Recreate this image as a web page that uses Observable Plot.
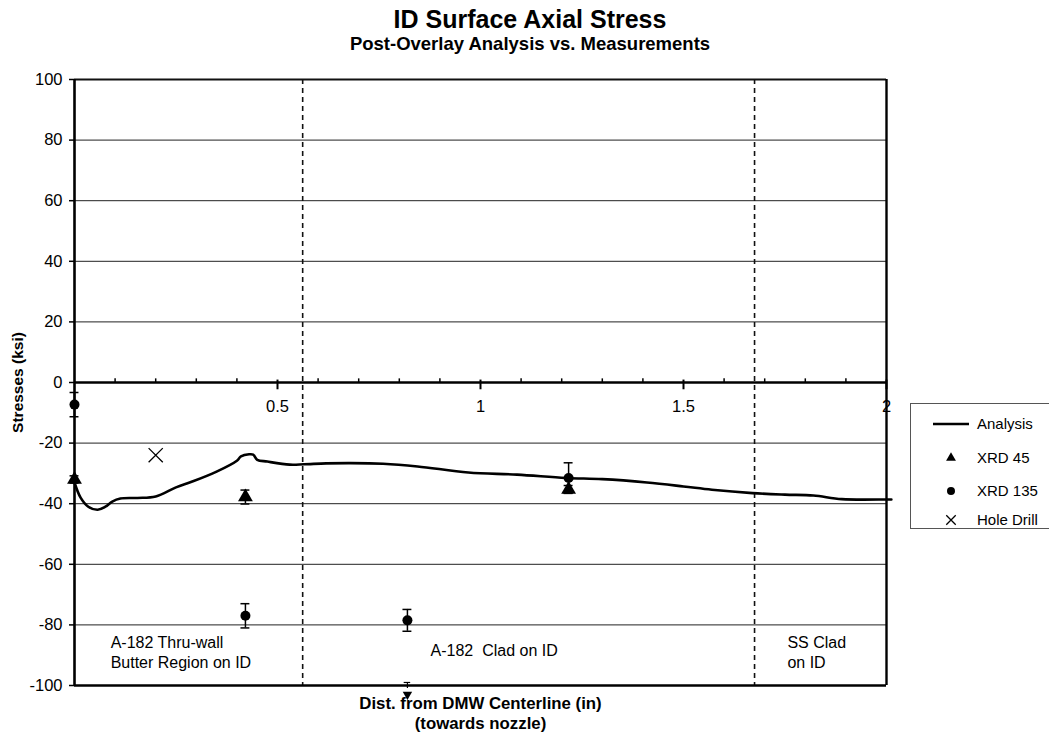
<!DOCTYPE html>
<html><head><meta charset="utf-8">
<script src="https://cdn.jsdelivr.net/npm/d3@7"></script>
<script src="https://cdn.jsdelivr.net/npm/@observablehq/plot@0.6"></script>
<style>
body{margin:0;background:#fff;font-family:Arial,"Liberation Sans",sans-serif;}
#wrap{position:relative;width:1049px;height:736px;overflow:hidden;}
.t{position:absolute;left:0;width:1060px;text-align:center;font-weight:bold;color:#000;line-height:1;white-space:nowrap}
#legend{position:absolute;left:910px;top:403px;width:150px;height:126px;border:1px solid #555;background:#fff;box-sizing:border-box}
#legend .it{position:absolute;left:0;height:20px;font-size:15px;line-height:20px;color:#000}
#legend svg{position:absolute;left:0;top:0}
#legend span{position:absolute;left:66px;white-space:nowrap}
</style></head>
<body>
<div id="wrap">
<div class="t" id="title" style="top:7px;font-size:25px">ID Surface Axial Stress</div>
<div class="t" id="subtitle" style="top:34.5px;font-size:18.5px">Post-Overlay Analysis vs. Measurements</div>
<div id="chart"></div>
<div id="legend"></div>
</div>
<script>
// ---- data ----
const analysisX = [0, 0.015, 0.034, 0.057, 0.076, 0.093, 0.113, 0.155, 0.2, 0.25, 0.29, 0.35, 0.40, 0.41, 0.43, 0.44, 0.45, 0.475, 0.53, 0.565, 0.62, 0.68, 0.76, 0.845, 0.97, 1.09, 1.21, 1.30, 1.41, 1.5, 1.57, 1.67, 1.75, 1.82, 1.89, 2.0, 2.012];
const analysisY = [-33, -38, -41, -42, -41, -39.3, -38.3, -38.1, -37.6, -34.6, -32.7, -29.4, -25.8, -24.4, -23.7, -23.8, -25.5, -26.1, -27.1, -27, -26.7, -26.6, -26.8, -27.7, -29.7, -30.4, -31.5, -31.9, -33, -34.3, -35.4, -36.5, -37, -37.3, -38.5, -38.6, -38.6];
const xrd45X = [0, 0.421, 1.217];
const xrd45Y = [-32, -37.8, -35.3];
const xrd45Err = [1.2, 2.3, 1.3];
const xrd135X = [0, 0.421, 0.82, 1.217];
const xrd135Y = [-7.3, -77, -78.5, -31.5];
const xrd135Err = [4, 4, 3.6, 5];
const holeX = [0.2];
const holeY = [-24];
const offscaleX = [0.82];
const offscaleY = [-100];
const yTicks = [100, 80, 60, 40, 20, 0, -20, -40, -60, -80, -100];
const xMajor = [0.5, 1, 1.5, 2];
const xMajorLabels = ["0.5", "1", "1.5", "2"];
const xMinor = [0.1,0.2,0.3,0.4,0.6,0.7,0.8,0.9,1.1,1.2,1.3,1.4,1.6,1.7,1.8,1.9];
const regionLines = [0.562, 1.675];
const regionLabels = ["A-182 Thru-wall\nButter Region on ID", "A-182\u00a0 Clad on ID", "SS Clad\non ID"];
const regionLabelX = [0.089, 0.877, 1.756];
const regionLabelY = [-88.8, -88.3, -88.8];

// ---- tables ----
const analysis = analysisX.map((x, i) => ({x, y: analysisY[i]}));
const xrd45 = xrd45X.map((x, i) => ({x, y: xrd45Y[i], err: xrd45Err[i]}));
const xrd135 = xrd135X.map((x, i) => ({x, y: xrd135Y[i], err: xrd135Err[i]}));
const hole = holeX.map((x, i) => ({x, y: holeY[i]}));
const offscale = offscaleX.map((x, i) => ({x, y: offscaleY[i]}));
const regions = regionLabels.map((t, i) => ({t, x: regionLabelX[i], y: regionLabelY[i]}));
const capW = 0.011;
const errs = [...xrd45, ...xrd135];

const font = "Arial, 'Liberation Sans', sans-serif";
const plot = Plot.plot({
  width: 1049, height: 736,
  marginLeft: 74, marginRight: 163, marginTop: 79, marginBottom: 51,
  x: {domain: [0, 2], axis: null},
  y: {domain: [-100, 100], axis: null},
  style: {fontFamily: font, fontSize: "16px", color: "#000", background: "transparent", overflow: "visible"},
  marks: [
    Plot.ruleY(yTicks.filter(d => Math.abs(d) !== 100 && d !== 0), {stroke: "#222", strokeWidth: 1}),
    Plot.ruleY([100], {stroke: "#111", strokeWidth: 1.8}),
    Plot.ruleX(regionLines, {stroke: "#111", strokeWidth: 1.6, strokeDasharray: "5,4"}),
    Plot.axisY({ticks: yTicks, tickSize: 5, tickPadding: 7, tickFormat: d => String(d), fontSize: 16.5, label: null, strokeWidth: 1.5}),
    Plot.ruleX([0], {stroke: "#000", strokeWidth: 2.6}),
    Plot.ruleX([2], {stroke: "#000", strokeWidth: 2.4}),
    Plot.ruleY([-100], {stroke: "#000", strokeWidth: 2.4}),
    Plot.ruleY([0], {stroke: "#000", strokeWidth: 2.6}),
    Plot.ruleX(xMinor, {y1: 0, y2: 1.2, stroke: "#000", strokeWidth: 1.5}),
    Plot.ruleX(xMajor, {y1: 0.8, y2: -2.4, stroke: "#000", strokeWidth: 2}),
    Plot.text(xMajor, {x: d => d, y: 0, text: (d, i) => xMajorLabels[i], dy: 24, fontSize: 16.5}),
    Plot.line(analysis, {x: "x", y: "y", stroke: "#000", strokeWidth: 2.6, curve: "catmull-rom"}),
    // error bars
    Plot.ruleX(errs, {x: "x", y1: d => d.y - d.err, y2: d => d.y + d.err, stroke: "#000", strokeWidth: 1.5}),
    Plot.ruleY(errs, {y: d => d.y - d.err, x1: d => d.x - capW, x2: d => d.x + capW, stroke: "#000", strokeWidth: 1.5}),
    Plot.ruleY(errs, {y: d => d.y + d.err, x1: d => d.x - capW, x2: d => d.x + capW, stroke: "#000", strokeWidth: 1.5}),
    Plot.dot(xrd45, {x: "x", y: "y", symbol: "triangle", r: 5.5, fill: "#000", stroke: "none"}),
    Plot.dot(xrd135, {x: "x", y: "y", symbol: "circle", r: 5, fill: "#000", stroke: "none"}),
    Plot.dot(hole, {x: "x", y: "y", symbol: "times", r: 6.5, stroke: "#000", strokeWidth: 1.3}),
    // off-scale marker at bottom
    Plot.ruleY(offscale, {y: d => d.y + 1, x1: d => d.x - 0.008, x2: d => d.x + 0.008, stroke: "#000", strokeWidth: 1.2}),
    Plot.ruleX(offscale, {x: "x", y1: d => d.y - 1, y2: d => d.y + 1, stroke: "#000", strokeWidth: 1.2}),
    Plot.dot(offscale, {x: "x", y: "y", symbol: "triangle", rotate: 180, r: 3.5, dy: 9, fill: "#000"}),
    // region labels
    Plot.text(regions, {x: "x", y: "y", text: "t", textAnchor: "start", lineAnchor: "middle", lineHeight: 1.25, fontSize: 16}),
    // axis titles
    Plot.text(["Stresses (ksi)"], {x: 0, y: 0, dx: -56, rotate: -90, fontWeight: "bold", fontSize: 15.5}),
    Plot.text(["Dist. from DMW Centerline (in)"], {x: 1, y: -100, dy: 18, fontWeight: "bold", fontSize: 16.8}),
    Plot.text(["(towards nozzle)"], {x: 1, y: -100, dy: 38, fontWeight: "bold", fontSize: 16.8})
  ]
});
document.getElementById("chart").appendChild(plot);

// ---- legend ----
const legendItems = [
  {label: "Analysis", kind: "line", y: 20},
  {label: "XRD 45", kind: "triangle", y: 54},
  {label: "XRD 135", kind: "circle", y: 87},
  {label: "Hole Drill", kind: "times", y: 116}
];
const leg = document.getElementById("legend");
const ns = "http://www.w3.org/2000/svg";
const svg = document.createElementNS(ns, "svg");
svg.setAttribute("width", 150); svg.setAttribute("height", 126);
for (const it of legendItems) {
  let el;
  if (it.kind === "line") {
    el = document.createElementNS(ns, "line");
    el.setAttribute("x1", 22); el.setAttribute("x2", 58); el.setAttribute("y1", it.y); el.setAttribute("y2", it.y);
    el.setAttribute("stroke", "#000"); el.setAttribute("stroke-width", 2.6);
  } else {
    el = document.createElementNS(ns, "path");
    const sym = it.kind === "triangle" ? d3.symbolTriangle : it.kind === "circle" ? d3.symbolCircle : d3.symbolTimes;
    const size = it.kind === "times" ? 60 : it.kind === "triangle" ? 42 : 50;
    el.setAttribute("d", d3.symbol(sym, size)());
    el.setAttribute("transform", `translate(40,${it.y})`);
    if (it.kind === "times") { el.setAttribute("fill", "none"); el.setAttribute("stroke", "#000"); el.setAttribute("stroke-width", 1.3); }
    else el.setAttribute("fill", "#000");
  }
  svg.appendChild(el);
  const d = document.createElement("div");
  d.className = "it"; d.style.top = (it.y - 10) + "px"; d.style.width = "150px";
  const s = document.createElement("span"); s.textContent = it.label; d.appendChild(s);
  leg.appendChild(d);
}
leg.appendChild(svg);
</script>
</body></html>
